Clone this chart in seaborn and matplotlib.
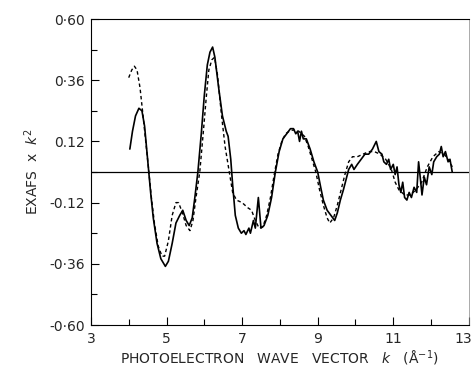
import numpy as np
import pandas as pd
import matplotlib
matplotlib.use("Agg")
import matplotlib.pyplot as plt
import matplotlib.transforms as mtransforms
import seaborn as sns
from matplotlib.ticker import MultipleLocator

# experimental curve (solid)
k_exp = [4.03, 4.10, 4.18, 4.27, 4.35, 4.42, 4.50, 4.58, 4.65, 4.75, 4.85, 4.97,
         5.05, 5.15, 5.25, 5.35, 5.43, 5.52, 5.60, 5.68, 5.75, 5.83, 5.92, 6.00,
         6.08, 6.15, 6.22, 6.28, 6.38, 6.48, 6.58, 6.63, 6.70, 6.75, 6.82, 6.90,
         6.98, 7.05, 7.10, 7.18, 7.22, 7.30, 7.35, 7.43, 7.50, 7.58, 7.68, 7.78,
         7.88, 7.98, 8.08, 8.18, 8.28, 8.36, 8.42, 8.47, 8.52, 8.57, 8.62, 8.70,
         8.80, 8.90, 9.00, 9.08, 9.15, 9.25, 9.35, 9.45, 9.52, 9.60, 9.68, 9.75,
         9.82, 9.90, 9.96, 10.05, 10.15, 10.25, 10.35, 10.45, 10.55, 10.62, 10.70,
         10.75, 10.82, 10.88, 10.93, 11.00, 11.05, 11.10, 11.15, 11.20, 11.25,
         11.30, 11.36, 11.42, 11.48, 11.55, 11.62, 11.67, 11.72, 11.76, 11.82,
         11.88, 11.95, 12.02, 12.07, 12.15, 12.22, 12.27, 12.32, 12.38, 12.45,
         12.50, 12.56]
chi_exp = [0.09, 0.16, 0.22, 0.25, 0.24, 0.18, 0.05, -0.08, -0.18, -0.28, -0.34, -0.37,
           -0.35, -0.28, -0.20, -0.17, -0.15, -0.19, -0.21, -0.18, -0.10, 0.00, 0.15, 0.30,
           0.42, 0.47, 0.49, 0.45, 0.33, 0.22, 0.16, 0.14, 0.05, -0.05, -0.17, -0.22,
           -0.24, -0.23, -0.245, -0.22, -0.24, -0.19, -0.22, -0.10, -0.22, -0.21, -0.17, -0.10,
           0.00, 0.08, 0.13, 0.15, 0.17, 0.17, 0.15, 0.16, 0.12, 0.16, 0.13, 0.13,
           0.09, 0.04, 0.00, -0.06, -0.11, -0.15, -0.17, -0.19, -0.16, -0.11, -0.07, -0.03,
           0.01, 0.03, 0.01, 0.03, 0.05, 0.07, 0.07, 0.09, 0.12, 0.08, 0.07,
           0.04, 0.03, 0.05, 0.01, 0.03, -0.01, 0.02, -0.05, -0.08, -0.04,
           -0.10, -0.11, -0.08, -0.10, -0.06, -0.08, 0.04, -0.03, -0.09, -0.02,
           -0.05, 0.02, -0.01, 0.04, 0.06, 0.07, 0.10, 0.06, 0.08, 0.04,
           0.05, 0.00]

# fitted curve (dashed)
k_fit = [4.00, 4.08, 4.15, 4.22, 4.30, 4.38, 4.45, 4.52, 4.60, 4.68, 4.78, 4.88,
         4.95, 5.05, 5.15, 5.25, 5.32, 5.42, 5.52, 5.62, 5.70, 5.78, 5.88, 5.97,
         6.05, 6.12, 6.20, 6.27, 6.35, 6.45, 6.55, 6.65, 6.75, 6.85, 7.00, 7.15,
         7.25, 7.35, 7.45, 7.55, 7.65, 7.75, 7.85, 7.95, 8.05, 8.15, 8.25, 8.35,
         8.50, 8.65, 8.75, 8.85, 8.95, 9.05, 9.15, 9.25, 9.32, 9.42, 9.52, 9.62,
         9.72, 9.82, 9.92, 10.05, 10.20, 10.35, 10.50, 10.65, 10.80, 10.95, 11.05,
         11.15, 11.30, 11.45, 11.60, 11.75, 11.90, 12.05, 12.20, 12.35, 12.50, 12.56]
chi_fit = [0.37, 0.40, 0.415, 0.40, 0.33, 0.22, 0.12, 0.02, -0.10, -0.20, -0.29, -0.33,
           -0.33, -0.27, -0.17, -0.12, -0.12, -0.16, -0.21, -0.23, -0.19, -0.10, 0.00, 0.15,
           0.29, 0.40, 0.44, 0.45, 0.38, 0.23, 0.10, 0.01, -0.08, -0.11, -0.12, -0.14,
           -0.15, -0.19, -0.22, -0.215, -0.17, -0.10, -0.01, 0.07, 0.12, 0.15, 0.16, 0.165,
           0.16, 0.14, 0.10, 0.05, 0.00, -0.07, -0.13, -0.18, -0.20, -0.18, -0.13, -0.07,
           -0.01, 0.04, 0.06, 0.06, 0.07, 0.08, 0.08, 0.07, 0.05, 0.01, -0.04,
           -0.07, -0.09, -0.09, -0.07, -0.04, 0.02, 0.06, 0.08, 0.07, 0.04, 0.02]

y_ticks = [0.60, 0.36, 0.12, -0.12, -0.36, -0.60]
y_labels = ["0·60", "0·36", "0.12", "-0.12", "-0·36", "-0·60"]
x_ticks = [3, 5, 7, 9, 11, 13]

sns.set_style("ticks")
plt.rcParams["font.family"] = ["DejaVu Sans"]

fig = plt.figure(figsize=(4.76, 3.70), dpi=100)
ax = fig.add_axes([0.191, 0.1216, 0.794, 0.827])

exp_df = pd.DataFrame({"k": k_exp, "chi": chi_exp})
fit_df = pd.DataFrame({"k": k_fit, "chi": chi_fit})
sns.lineplot(data=exp_df, x="k", y="chi", sort=False, color="black", linewidth=1.2, ax=ax)
sns.lineplot(data=fit_df, x="k", y="chi", sort=False, color="black", linewidth=1.0,
             linestyle=(0, (2.5, 2)), ax=ax)
ax.axhline(0, color="black", linewidth=0.9)

ax.set_xlim(3, 13)
ax.set_ylim(-0.60, 0.60)
ax.set_xticks(x_ticks)
ax.set_xticklabels([str(t) for t in x_ticks])
ax.xaxis.set_minor_locator(MultipleLocator(1))
ax.set_yticks(y_ticks)
ax.set_yticklabels(y_labels)
ax.yaxis.set_minor_locator(MultipleLocator(0.12))

ax.tick_params(which="both", direction="in", color="black", labelsize=10, width=0.8)
ax.tick_params(which="major", length=6)
ax.tick_params(which="minor", length=4)
ax.tick_params(axis="x", pad=5)
ax.tick_params(axis="y", pad=4)

# keep the last x label inside the canvas
last = ax.get_xticklabels()[-1]
last.set_transform(last.get_transform() +
                   mtransforms.ScaledTranslation(-4 / 72, 0, fig.dpi_scale_trans))

for s in ax.spines.values():
    s.set_color("black")
    s.set_linewidth(0.8)
ax.spines["right"].set_linewidth(0.5)
ax.spines["right"].set_color("#888888")

ax.set_xlabel("PHOTOELECTRON   WAVE   VECTOR   $k$   (Å$^{-1}$)", fontsize=10, labelpad=2)
ax.set_ylabel("EXAFS  x  $k^2$", fontsize=10, labelpad=6)

fig.savefig("out.png", dpi=100)
